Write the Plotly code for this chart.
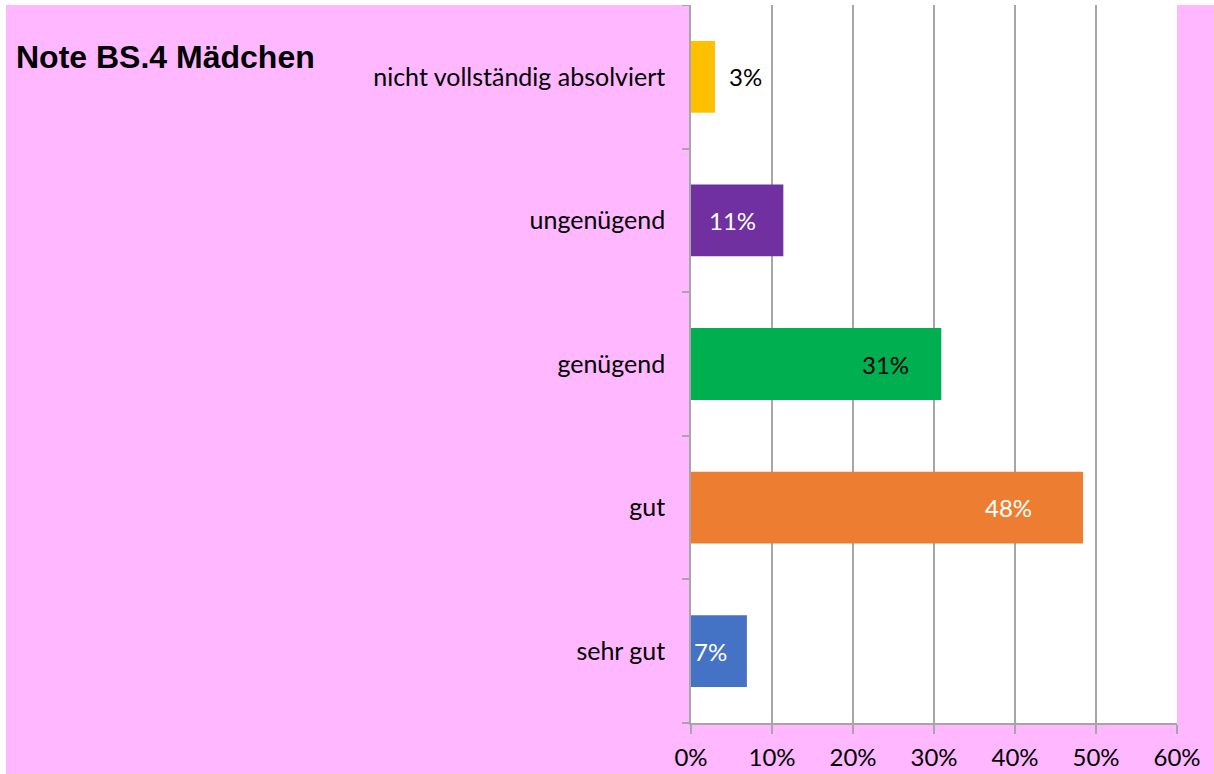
import plotly.graph_objects as go

# Data (bottom to top, as plotly draws horizontal bars)
categories = ["sehr gut", "gut", "genügend", "ungenügend", "nicht vollständig absolviert"]
values = [0.069, 0.484, 0.309, 0.114, 0.0296]
colors = ["#4472C4", "#ED7D31", "#00B050", "#7030A0", "#FFC000"]
label_colors = ["white", "white", "black", "white", "black"]
label_shift = [-36, -75, -56, -51, 31]
title_text = "Note BS.4 Mädchen"
x_ticks = [0, 0.1, 0.2, 0.3, 0.4, 0.5, 0.6]

PINK = "#FFB8FF"
GRID = "#A6A6A6"
FONT = "Lato, 'Open Sans', sans-serif"
FS = 24

fig = go.Figure()
fig.add_trace(go.Bar(
    x=values, y=categories, orientation="h",
    marker=dict(color=colors, line=dict(width=0)),
    width=0.5, hoverinfo="skip",
))

for v, c, lc, s in zip(values, categories, label_colors, label_shift):
    fig.add_annotation(
        x=v, y=c, xref="x", yref="y", text=f"{round(v * 100)}%",
        showarrow=False, xanchor="center", yanchor="middle", xshift=s,
        font=dict(family=FONT, size=FS, color=lc),
    )

W, H = 1208, 769
fig.update_layout(
    width=W, height=H,
    margin=dict(l=685, r=37, t=0, b=51, pad=0),
    paper_bgcolor=PINK, plot_bgcolor="white",
    showlegend=False,
    title=dict(
        text=title_text, x=10 / W, xanchor="left", xref="container",
        y=1 - 52 / H, yanchor="middle", yref="container",
        font=dict(family="'Liberation Sans', Arial, sans-serif", size=32, color="black", weight="bold"),
    ),
    font=dict(family=FONT, size=FS, color="black"),
    xaxis=dict(
        range=[0, 0.6], tickvals=x_ticks, tickformat=".0%",
        showgrid=True, gridcolor=GRID, gridwidth=1.5,
        showline=True, linecolor=GRID, linewidth=1.5,
        ticks="outside", ticklen=9, tickcolor=GRID, tickwidth=1.5,
        zeroline=False, fixedrange=True,
        tickfont=dict(family=FONT, size=FS, color="black"),
        ticklabelstandoff=3,
    ),
    yaxis=dict(
        categoryorder="array", categoryarray=categories,
        showgrid=False, showline=True, linecolor=GRID, linewidth=1.5,
        ticks="outside", ticklen=7, tickcolor=GRID, tickwidth=1.5,
        tickson="boundaries", fixedrange=True,
        tickfont=dict(family=FONT, size=25, color="black"),
        ticklabelstandoff=19,
    ),
)

fig.write_html(
    "out.html",
    config={"displayModeBar": False},
    post_script="document.body.style.margin='5px 0 0 6px';document.body.style.overflow='hidden';",
)
